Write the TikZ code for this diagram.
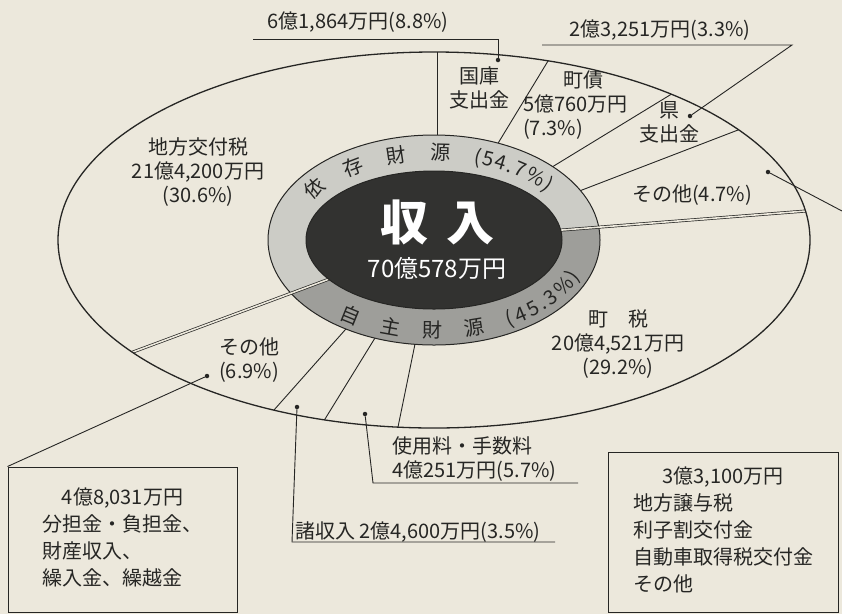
\documentclass[tikz,border=0pt]{standalone}
\usepackage{fontspec}
\setmainfont{Noto Sans CJK JP}
\usetikzlibrary{positioning}
\usetikzlibrary{calc}
\usetikzlibrary{decorations.text}

\definecolor{paper}{RGB}{236,232,220}
\definecolor{ringlight}{RGB}{204,204,198}
\definecolor{ringdark}{RGB}{158,158,154}
\definecolor{core}{RGB}{50,50,48}
\definecolor{ink}{RGB}{38,38,36}

\tikzset{
  segtext/.style={font=\fontsize{20}{24}\selectfont, text=ink, inner sep=0pt, align=center},
  leaderline/.style={draw=ink, line width=0.9pt},
  leaderdot/.style={circle, fill=ink, inner sep=0pt, minimum size=4.5pt},
  cutline/.style={draw=ink, line width=0.9pt},
  splitline/.style={draw=ink, double=paper, double distance=1.6pt, line width=0.7pt},
  ringline/.style={draw=ink, line width=1pt},
  outerline/.style={draw=ink, line width=1.3pt},
  notebox/.style={draw=ink, line width=1pt, inner sep=0pt, text=ink,
                  font=\fontsize{20}{27}\selectfont}
}

\begin{document}
\begin{tikzpicture}[x=1pt,y=-1pt]
\useasboundingbox (0,0) rectangle (842,614);
\fill[paper] (0,0) rectangle (842,614);

\coordinate (c) at (434,240);
\coordinate (sl) at (133,352);
\coordinate (sr) at (806,211);

% segment borders
\begin{scope}
  \clip (c) ellipse [x radius=376, y radius=188];
  \foreach \ax/\ay/\bx/\by in {437/134/437/52, 500/140/548/61, 557/164/670/95, 582/190/738/130,
                               345/330/274/410, 375/338/325/419, 415/344/398/427}
    \draw[cutline] ($(\ax,\ay)!-0.5!(\bx,\by)$) -- ($(\ax,\ay)!1.5!(\bx,\by)$);
\end{scope}

% ring
\fill[ringlight] (c) ellipse [x radius=166, y radius=105];
\begin{scope}
  \clip (c) ellipse [x radius=166, y radius=105];
  \fill[ringdark] (c) -- (sl) -- (133,470) -- (806,470) -- (sr) -- cycle;
\end{scope}
\draw[ringline] (c) ellipse [x radius=166, y radius=105];

\begin{scope}
  \clip (c) ellipse [x radius=376, y radius=188];
  \draw[splitline] (c) -- ($(c)!1.1!(sl)$);
  \draw[splitline] (c) -- ($(c)!1.1!(sr)$);
\end{scope}

\draw[ringline, fill=core] (c) ellipse [x radius=128, y radius=69];
\draw[outerline] (c) ellipse [x radius=376, y radius=188];

% ring texts
\path[decorate, decoration={text along path, text align=left,
      text={|\fontsize{20}{24}\selectfont\color{ink}|依　{\kern3pt}存　{\kern3pt}財　{\kern3pt}源　{\kern3pt}({\kern1.5pt}5{\kern1.5pt}4{\kern1.5pt}.{\kern1.5pt}7{\kern1.5pt}{\%}{\kern1.5pt})}}]
  ($(c)+(-151:140 and 80)$) arc[start angle=-151, end angle=-2, x radius=140, y radius=80];
\path[decorate, decoration={text along path, text align=left,
      text={|\fontsize{20}{24}\selectfont\color{ink}|自　{\kern3pt}主　{\kern3pt}財　{\kern3pt}源　{\kern5pt}({\kern3pt}4{\kern3pt}5{\kern3pt}.{\kern3pt}3{\kern3pt}{\%}{\kern3pt})}}]
  ($(c)+(127:158 and 98)$) arc[start angle=127, end angle=-60, x radius=158, y radius=98];

% centre
\node[text=white, font=\fontsize{48}{50}\selectfont\bfseries, inner sep=0pt] (title) at (437,222) {収\hspace{18pt}入};
\node[text=white, font=\fontsize{24}{28}\selectfont, inner sep=0pt, below=12pt of title] (total) {70億578万円};

% segment labels
\node[segtext] (chiho) at (198,172) {\fontsize{20}{24}\selectfont 地方交付税\\21億4,200万円\\(30.6\%)};
\node[segtext] (kokko) at (479,88) {\fontsize{20}{27}\selectfont 国庫\\支出金};
\node[segtext, anchor=west, align=left] (chosai) at (523,105) {\fontsize{20}{23}\selectfont \hspace*{2em}町債\\5億760万円\\(7.3\%)};
\node[segtext] (ken) at (669,122) {\fontsize{20}{25}\selectfont 県\\支出金};
\node[segtext] (sonota1) at (692,195) {その他(4.7\%)};
\node[segtext] (chozei) at (618,344) {\fontsize{20}{26}\selectfont 町　税\\20億4,521万円\\(29.2\%)};
\node[segtext] (sonota2) at (249,360) {\fontsize{20}{21}\selectfont その他\\(6.9\%)};

% leaders
\node[leaderdot] (d1) at (498,60) {};
\coordinate (k1) at (498,39);
\coordinate (e1) at (253,39);
\draw[leaderline] (d1) -- (k1) -- (e1);
\node[segtext] (v1) at (358,22) {6億1,864万円(8.8\%)};

\node[leaderdot] (d2) at (690,116) {};
\coordinate (k2) at (792,45);
\coordinate (e2) at (542,45);
\draw[leaderline] (d2) -- (k2) -- (e2);
\node[segtext] (v2) at (660,30) {2億3,251万円(3.3\%)};

\node[leaderdot] (d3) at (768,172) {};
\coordinate (e3) at (842,211);
\draw[leaderline] (d3) -- (e3);

\node[leaderdot] (d5) at (297,407) {};
\coordinate (k5) at (292,542);
\coordinate (e5) at (555,542);
\draw[leaderline] (d5) -- (k5) -- (e5);
\node[segtext, anchor=base west] (v5) at (295,538) {諸収入 2億4,600万円(3.5\%)};

\node[leaderdot] (d6) at (365,414) {};
\coordinate (k6) at (373,483);
\coordinate (e6) at (578,483);
\draw[leaderline] (d6) -- (k6) -- (e6);
\node[segtext, anchor=west, align=left] (v6) at (392,459) {\fontsize{20}{25}\selectfont 使用料・手数料\\4億251万円(5.7\%)};

% boxes
\node[notebox, minimum width=229pt, minimum height=145pt] (lbox) at (122.5,539.5)
  {\begin{tabular}{@{}l@{}}\multicolumn{1}{@{}c@{}}{4億8,031万円}\\分担金・負担金、\\財産収入、\\繰入金、繰越金\end{tabular}};
\node[notebox, minimum width=230pt, minimum height=160pt] (rbox) at (723,532)
  {\begin{tabular}{@{}l@{}}\multicolumn{1}{@{}c@{}}{3億3,100万円}\\地方譲与税\\利子割交付金\\自動車取得税交付金\\その他\end{tabular}};

\node[leaderdot] (d4) at (207,376) {};
\draw[leaderline] (d4) -- (lbox.north west);
\end{tikzpicture}
\end{document}
